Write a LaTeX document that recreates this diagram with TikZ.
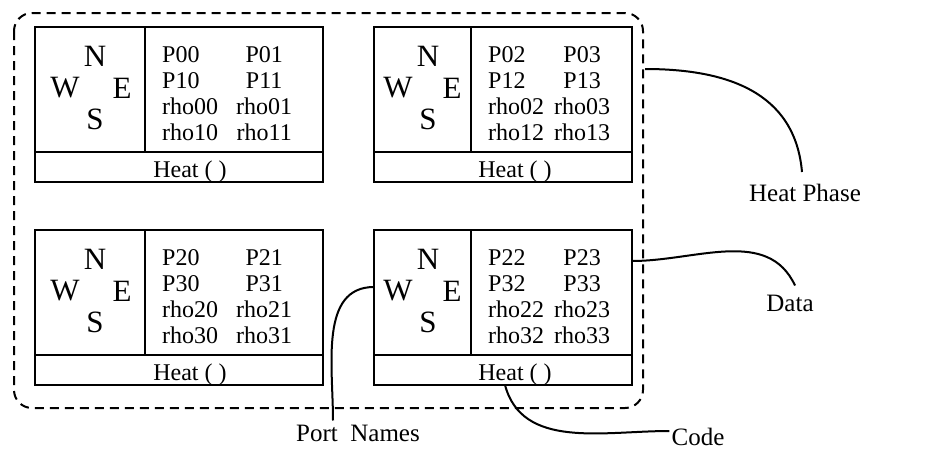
\documentclass[tikz,border=0pt]{standalone}
\usepackage{fontspec}
\setmainfont{Liberation Serif}

\begin{document}
\begin{tikzpicture}[x=1pt, y=-1pt,
  cellbox/.style={line width=2.6pt},
  compass/.style={font=\fontsize{31}{34}\selectfont, inner sep=0pt},
  datablk/.style={font=\fontsize{24}{26}\selectfont, inner sep=0pt, anchor=base west},
  codelbl/.style={font=\fontsize{24}{26}\selectfont, inner sep=0pt, anchor=base},
  outlbl/.style={font=\fontsize{25}{28}\selectfont, inner sep=2pt},
  conn/.style={line width=2pt},
  phaseline/.style={line width=2pt, dash pattern=on 9pt off 6pt, rounded corners=18pt}]
\useasboundingbox (0,0) rectangle (934,450);
% the heat phase
\draw[phaseline] (14,13) rectangle (643,408);
\coordinate (phasept) at (645,69);
% top left cell
\begin{scope}[shift={(35,27)}]
\draw[cellbox] (0,0) rectangle (288,155);
\draw[cellbox] (110,0) -- (110,125) (0,125) -- (288,125);
\node[compass] (n1) at (60,29) {N};
\node[compass] (w1) at (30,61) {W};
\node[compass] (e1) at (87,61) {E};
\node[compass] (s1) at (60,92) {S};
\node[datablk] (d1) at (127,35) {\begin{tabular}[t]{@{}l@{\hspace{18pt}}c@{}}P00 & P01\\ P10 & P11\\ rho00 & rho01\\ rho10 & rho11\end{tabular}};
\node[codelbl] (h1) at (155,150) {Heat ( )};
\end{scope}
% top right cell
\begin{scope}[shift={(374,27)}]
\draw[cellbox] (0,0) rectangle (258,155);
\draw[cellbox] (97,0) -- (97,125) (0,125) -- (258,125);
\node[compass] (n2) at (54,29) {N};
\node[compass] (w2) at (24,61) {W};
\node[compass] (e2) at (78,61) {E};
\node[compass] (s2) at (54,92) {S};
\node[datablk] (d2) at (114,35) {\begin{tabular}[t]{@{}l@{\hspace{10pt}}c@{}}P02 & P03\\ P12 & P13\\ rho02 & rho03\\ rho12 & rho13\end{tabular}};
\node[codelbl] (h2) at (141,150) {Heat ( )};
\end{scope}
% bottom left cell
\begin{scope}[shift={(35,230)}]
\draw[cellbox] (0,0) rectangle (288,155);
\draw[cellbox] (110,0) -- (110,125) (0,125) -- (288,125);
\node[compass] (n3) at (60,29) {N};
\node[compass] (w3) at (30,61) {W};
\node[compass] (e3) at (87,61) {E};
\node[compass] (s3) at (60,92) {S};
\node[datablk] (d3) at (127,35) {\begin{tabular}[t]{@{}l@{\hspace{18pt}}c@{}}P20 & P21\\ P30 & P31\\ rho20 & rho21\\ rho30 & rho31\end{tabular}};
\node[codelbl] (h3) at (155,150) {Heat ( )};
\end{scope}
% bottom right cell
\begin{scope}[shift={(374,230)}]
\draw[cellbox] (0,0) rectangle (258,155);
\draw[cellbox] (97,0) -- (97,125) (0,125) -- (258,125);
\node[compass] (n4) at (54,29) {N};
\node[compass] (w4) at (24,61) {W};
\node[compass] (e4) at (78,61) {E};
\node[compass] (s4) at (54,92) {S};
\node[datablk] (d4) at (114,35) {\begin{tabular}[t]{@{}l@{\hspace{10pt}}c@{}}P22 & P23\\ P32 & P33\\ rho22 & rho23\\ rho32 & rho33\end{tabular}};
\node[codelbl] (h4) at (141,150) {Heat ( )};
\coordinate (portpt) at (0,57);
\coordinate (datapt) at (258,31);
\coordinate (codept) at (131,155);
\end{scope}
% labels
\node[outlbl] (phaselbl) at (805,193) {Heat Phase};
\node[outlbl] (datalbl) at (790,303) {Data};
\node[outlbl] (codelbl) at (698,437) {Code};
\node[outlbl] (portlbl) at (358,433) {Port\ \ Names};
\draw[conn] (phasept) to[out=0, in=95, looseness=1.1] ([xshift=-3pt, yshift=10pt]phaselbl.north);
\draw[conn] (datapt) to[out=0, in=115] ([xshift=5pt, yshift=7pt]datalbl.north);
\draw[conn] (codept) to[out=-75, in=180] ([yshift=6pt]codelbl.west);
\draw[conn] (portpt) to[out=180, in=90] ([xshift=-25pt, yshift=2pt]portlbl.north);
\end{tikzpicture}
\end{document}
